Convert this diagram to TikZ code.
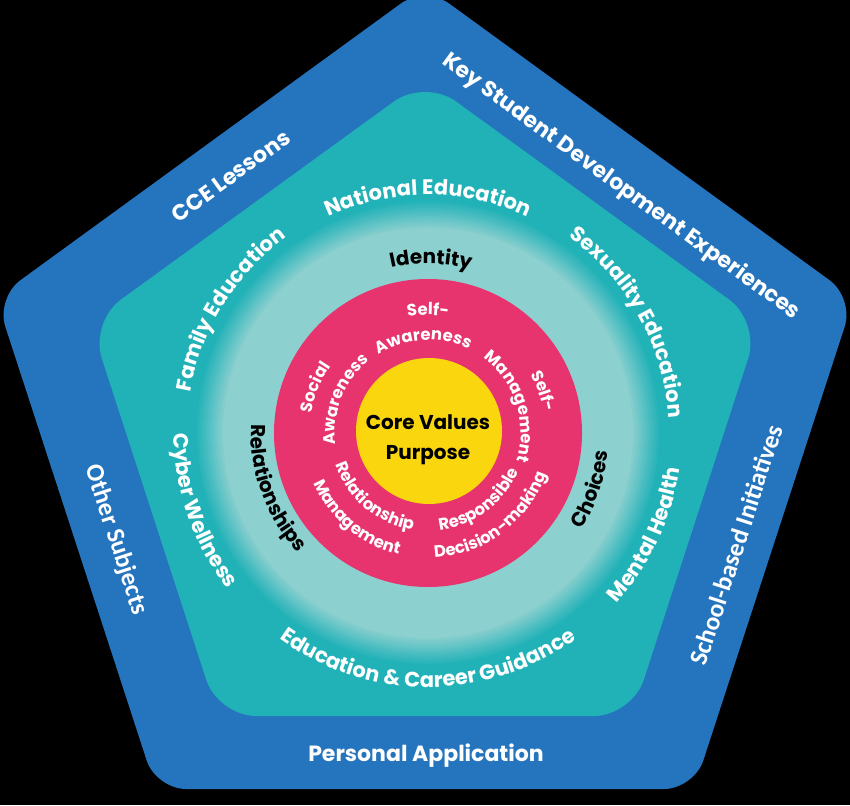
\documentclass[tikz,border=0pt]{standalone}
\usepackage{fontspec}
\setmainfont{Poppins}
\newfontfamily\calfont{Carlito}
\usetikzlibrary{decorations.text,calc}
\definecolor{outerblue}{RGB}{37,117,190}
\definecolor{ringteal}{RGB}{33,178,184}
\definecolor{lightteal}{RGB}{140,208,207}
\definecolor{pinkring}{RGB}{231,52,111}
\definecolor{coreyellow}{RGB}{249,214,14}
% #1 angle, #2 radius, #3 font, #4 colour, #5 text : clockwise arc, tops outward
\newcommand\ArcOut[5]{\path[decorate,decoration={text along path,text align=center,text color=#4,text={|#3|#5}}]
  ($(C)+(#1+80:#2)$) arc[start angle=#1+80,end angle=#1-80,radius=#2];}
% counter-clockwise arc, tops inward
\newcommand\ArcIn[5]{\path[decorate,decoration={text along path,text align=center,text color=#4,text={|#3|#5}}]
  ($(C)+(#1-80:#2)$) arc[start angle=#1-80,end angle=#1+80,radius=#2];}
\newcommand\BandFont{\fontsize{22}{22}\selectfont\bfseries}
\newcommand\RingFont{\fontsize{21}{21}\selectfont\bfseries}
\newcommand\PinkFont{\fontsize{16.5}{16.5}\selectfont\bfseries}
\newcommand\MidFont{\fontsize{20}{20}\selectfont\bfseries}
\begin{document}
\begin{tikzpicture}[x=1pt,y=1pt,
  bandtext/.style={text=white,font=\BandFont,inner sep=0pt},
  caltext/.style={text=white,font=\calfont\fontsize{25.5}{25.5}\selectfont\bfseries,inner sep=0pt},
  coretext/.style={text=black,font=\fontsize{20}{20}\selectfont\bfseries,inner sep=0pt}]
\fill[black] (0,0) rectangle (850,-805);
\useasboundingbox (0,0) rectangle (850,-805);
\coordinate (C) at (428,-433);
% outer pentagon
\fill[outerblue,rounded corners=30pt] (425,14) -- (854,-298) -- (694,-789) -- (156,-789) -- (-4,-298) -- cycle;
% teal pentagon
\fill[ringteal,rounded corners=38pt] (425,-79) -- (760,-322) -- (632,-716) -- (218,-716) -- (90,-322) -- cycle;
% glow
\foreach \k [evaluate=\k as \pct using int(\k*100/14), evaluate=\k as \rr using 233-2*\k] in {0,...,14}
  {\fill[lightteal!\pct!ringteal] (C) circle[radius=\rr];}
\fill[lightteal] (C) circle[radius=204];
\fill[pinkring] (C) circle[radius=154];
\fill[coreyellow] ($(C)+(1,2)$) circle[radius=73];
% teal ring texts
\ArcOut{90}{238}{\RingFont}{white}{National Education}
\ArcOut{148}{241}{\RingFont}{white}{Family Education}
\ArcOut{29}{241}{\RingFont}{white}{Sexuality Education}
\ArcIn{199}{254}{\RingFont}{white}{Cyber Wellness}
\ArcIn{270}{254}{\RingFont}{white}{Education {\&} Career Guidance}
\ArcIn{335}{254}{\RingFont}{white}{Mental Health}
% light ring texts
\ArcOut{89}{169}{\MidFont}{black}{Identity}
\ArcIn{200}{177}{\MidFont}{black}{Relationships}
\ArcIn{341}{181}{\MidFont}{black}{Choices}
% pink ring texts
\ArcOut{90}{118}{\PinkFont}{white}{Self-}
\ArcOut{93}{93}{\PinkFont}{white}{Awareness}
\ArcOut{158}{118}{\PinkFont}{white}{Social}
\ArcOut{158}{93}{\PinkFont}{white}{Awareness}
\ArcOut{20}{118}{\PinkFont}{white}{Self-}
\ArcOut{18}{93}{\PinkFont}{white}{Management}
\ArcIn{230}{98}{\PinkFont}{white}{Relationship}
\ArcIn{230}{125}{\PinkFont}{white}{Management}
\ArcIn{307}{98}{\PinkFont}{white}{Responsible}
\ArcIn{307}{125}{\PinkFont}{white}{Decision-making}
% core
\node[coretext] (cv) at (428,-422) {Core Values};
\node[coretext] (pp) at (428,-455) {Purpose};
% outer band texts
\node[bandtext,rotate=36] (cce) at (231,-176) {CCE Lessons};
\node[bandtext,rotate=-36] (ksd) at (621,-187) {Key Student Development Experiences};
\node[caltext,rotate=-72] (oth) at (116,-540) {Other Subjects};
\node[caltext,rotate=72] (sbi) at (736,-545) {School-based Initiatives};
\node[bandtext] (pa) at (426,-756) {Personal Application};
\end{tikzpicture}
\end{document}
